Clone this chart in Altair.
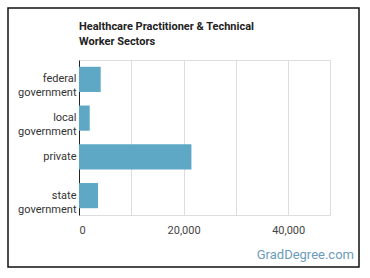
import altair as alt
import pandas as pd

sectors = ["federal government", "local government", "private", "state government"]
workers = [4150, 2050, 21500, 3640]
x_ticks = [0, 10000, 20000, 30000, 40000]
title_lines = ["Healthcare Practitioner & Technical", "Worker Sectors"]
watermark = "GradDegree.com"

df = pd.DataFrame({"sector": sectors, "workers": workers})

FONT = "Roboto"

bars = alt.Chart(df).mark_bar(color="#5ea8c6").encode(
    x=alt.X(
        "workers:Q",
        scale=alt.Scale(domain=[0, 48000], nice=False),
        axis=alt.Axis(
            values=x_ticks,
            title=None,
            domain=False,
            ticks=False,
            grid=True,
            gridColor="#dddddd",
            labelExpr="datum.value % 20000 == 0 ? format(datum.value, ',') : ''",
            labelFont=FONT,
            labelFontSize=11,
            labelColor="#444444",
            labelPadding=9,
        ),
    ),
    y=alt.Y(
        "sector:N",
        sort=sectors,
        scale=alt.Scale(paddingInner=0.35, paddingOuter=0.175),
        axis=alt.Axis(
            title=None,
            ticks=False,
            grid=False,
            domain=True,
            domainColor="#222222",
            labelExpr="split(datum.label, ' ')",
            labelFont=FONT,
            labelFontSize=11,
            labelColor="#333333",
            labelPadding=3,
            labelLineHeight=14,
        ),
    ),
)

one = alt.Data(values=[{"a": 1}])

border = alt.Chart(one).mark_rect(
    fill=None, stroke="#111111", strokeWidth=1.5
).encode(
    x=alt.value(-71), x2=alt.value(280), y=alt.value(-52), y2=alt.value(207)
)

title = alt.Chart(one).mark_text(
    text=title_lines, align="left", baseline="alphabetic",
    font=FONT, fontSize=11, fontWeight="bold", color="#222222",
    lineHeight=15
).encode(x=alt.value(0), y=alt.value(-30.5))

mark = alt.Chart(one).mark_text(
    text=watermark, align="right", baseline="alphabetic",
    font=FONT, fontSize=13, color="#6b9cbc"
).encode(x=alt.value(275), y=alt.value(199))

chart = alt.layer(bars, border, title, mark).properties(
    width=251,
    height=155,
    autosize=alt.AutoSizeParams(type="none"),
    padding={"left": 79, "top": 60, "right": 40, "bottom": 63},
).configure_view(stroke=None).configure(background="white")

chart.save("out.html", embed_options={"renderer": "svg", "actions": False})
